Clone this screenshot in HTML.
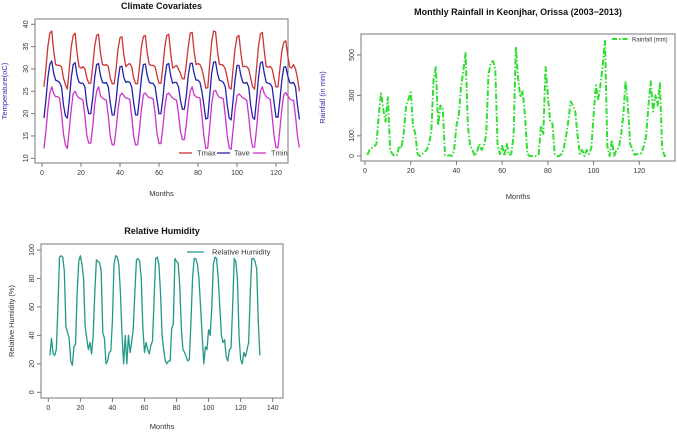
<!DOCTYPE html>
<html><head><meta charset="utf-8"><style>
body{margin:0;background:#fff;}
svg{display:block;font-family:"Liberation Sans",sans-serif;}
</style></head><body>
<svg id="c" width="677" height="432"></svg>
<script>
const months = Array.from({length:132},(_,i)=>i+1);
const tmax = [26,30,35,38,38.5,34,31,30.8,30.8,30.5,28,26.5, 25.5,30,35,37.5,38,33.5,30.5,30.2,30.5,30,28,26.8, 26.8,30.5,35,37.5,37.8,33.5,31,30.8,31,30.5,28,26.7, 26.7,30,34.5,37,37.2,33,30.5,31,31.2,30.5,28,26.7, 26.7,30.5,35,37.3,37.5,33.5,31,30.8,30.8,30.5,28.5,26.8, 26.8,30.5,35,37.5,37.8,33.5,30.2,30.5,30.8,30,29,27.8, 27.8,31,35,38,38.2,34,31,31.2,31,30,28,25.7, 25.8,31,36,38.5,38.3,34,31,31,30.8,30,28,25.8, 25.5,30,34.5,37.2,37.5,33.5,30.5,30.6,30.5,30,28,26, 25.5,30,35,37.8,38.2,34,30.5,30.4,30.6,30,28,26, 26,30,34,36,36.3,33,30.5,30.2,31,30,28,25];
const tave = [19,23,28,31,31.8,29,27.5,27.3,27,26,22,19.5, 19,23,28,31,31.4,28.5,27,26.8,26.8,26,22,20, 20,23.5,28,31,31.2,28.5,27,26.8,27,26,22.5,19.7, 19.7,23,27.5,30.5,30.6,28,27,27.2,27,26,22.5,19.7, 19.7,23.5,28,31,31.1,28.5,27,26.8,26.8,26,23,20, 20,23.5,28,31,31.2,28.5,26.8,27,27,26,23,21, 21,24,28.5,31.2,31.3,29,27.5,27.5,27,25,22,18.8, 19,24,29,31.5,31.6,29,27.5,27.3,27,26,22,19, 18.6,23,27.5,30.8,30.8,28.5,27,26.8,27,26,22,19.2, 18.7,23,28,31.3,31.6,29,27,26.8,26.7,26,22.5,19.2, 19.2,23,27.5,30.4,30.5,28.5,27,26.8,27,26,22,18.7];
const tmin = [12.2,16,21,24.5,26,24.5,23.8,23.8,23.5,20,15.5,13, 12.2,16.5,21,24.5,25,24,23.5,23.3,23,19.5,15,13.4, 13.4,17,22,25,26,24,23.5,23.2,23,19.5,15,13, 13,16.5,21,24,24.6,24,23.5,23.4,23.2,19.5,15,13, 13,16.5,21,24.3,24.6,24,23.6,23.5,23.3,20,15.5,13.3, 13.3,17,21.5,24.3,24.6,24,23.5,23.2,23,20,16,14.2, 14.2,17.5,22,25,26,24.2,23.8,23.6,23.5,19.5,15,12.2, 12.3,17,22,25,25.2,24.2,23.6,23.5,23.3,19.5,15,12.3, 12,16.5,21,24,24.4,24,23.5,23.3,23,19.5,15,12.5, 12.5,16.5,21.5,25,26,24.5,23.8,23.5,23.2,19.5,15,12.4, 12.4,16.5,21,24.3,24.7,24,23.3,23,23,19.5,15,12.4];
const rain = [5,30,40,45,60,200,310,230,170,290,30,10, 0,5,50,40,120,250,280,315,150,110,10,0, 10,20,30,60,120,380,440,150,250,240,5,0, 5,0,30,150,200,340,420,510,150,50,30,0, 20,60,30,50,100,400,460,470,430,50,10,50, 0,60,5,10,100,540,380,290,320,200,10,0, 0,0,0,10,150,110,440,300,170,160,10,0, 0,10,40,100,180,270,250,220,100,10,30,0, 30,10,40,200,350,280,350,450,570,50,0,80, 0,30,40,100,200,370,250,60,30,5,10,10, 15,50,100,250,370,220,300,250,360,40,0,0];
const rh = [26,38,27,26,30,60,95,96,95,85,46,42, 38,22,19,32,34,70,92,96,90,80,46,38, 30,35,27,40,70,93,92,91,85,42,38,20, 22,28,29,50,90,96,95,90,70,40,20,40, 20,40,28,35,45,70,93,94,92,80,45,28, 35,30,27,33,36,65,94,95,90,70,40,30, 22,20,22,22,45,48,94,92,91,75,45,30, 28,25,22,23,50,80,94,94,90,80,60,40, 20,32,30,44,40,60,90,95,94,80,60,40, 35,37,25,22,30,31,60,94,92,80,40,23, 20,28,25,30,35,70,94,94,92,87,50,26];
const rhTicks=[0,20,40,60,80,100,120,140];

const S=document.getElementById('c'),NS='http://www.w3.org/2000/svg';
function mk(t,a,p){const e=document.createElementNS(NS,t);for(const k in a)e.setAttribute(k,a[k]);(p||S).appendChild(e);return e;}
function txt(x,y,s,o){const e=mk('text',Object.assign({x:x,y:y,'font-size':7,fill:'#333','text-anchor':'middle'},o||{}));e.textContent=s;return e;}

function panel(cfg){
  const g=mk('g',{});
  
  
  const sx=v=>cfg.x0+(v-cfg.xa)/(cfg.xb-cfg.xa)*(cfg.x1-cfg.x0);
  const sy=v=>cfg.y0+(v-cfg.ya)/(cfg.yb-cfg.ya)*(cfg.y1-cfg.y0);
  const b=cfg.box;
  const r=mk('rect',{x:b[0],y:b[1],width:b[2]-b[0],height:b[3]-b[1],fill:'none',stroke:'#777','stroke-width':1},g);
  
  const t=txt((b[0]+b[2])/2,cfg.ty,cfg.title,{'font-size':9,'font-weight':'bold',fill:'#111'});
  
  g.appendChild(t);
  const xl=txt((b[0]+b[2])/2,cfg.xly,'Months',{'font-size':7.5});
  g.appendChild(xl);
  const yl=txt(0,0,cfg.ylab,{'font-size':7.5,fill:cfg.ycol,transform:`translate(${cfg.ylx},${(b[1]+b[3])/2}) rotate(-90)`});
  g.appendChild(yl);
  cfg.xt.forEach(v=>{mk('line',{x1:sx(v),x2:sx(v),y1:b[3],y2:b[3]+4,stroke:'#777'},g);
    const l=txt(sx(v),b[3]+12,v);g.appendChild(l);});
  cfg.yt.forEach(v=>{mk('line',{x1:b[0]-4,x2:b[0],y1:sy(v),y2:sy(v),stroke:'#777'},g);
    const l=txt(0,0,v,{transform:`translate(${b[0]-7},${sy(v)}) rotate(-90)`});g.appendChild(l);});
  cfg.series.forEach(s=>{
    const p=mk('polyline',{points:s.d.map((v,i)=>sx(months[i])+','+sy(v)).join(' '),fill:'none',stroke:s.c,'stroke-width':s.w||1.3,'stroke-dasharray':s.dash||'','stroke-linejoin':'round'},g);
    
  });
  cfg.legend.forEach(l=>{
    const lg=mk('g',{},g);
    mk('line',{x1:l.x1,x2:l.x2,y1:l.y,y2:l.y,stroke:l.c,'stroke-width':l.w||1.3,'stroke-dasharray':l.dash||''},lg);
    lg.appendChild(txt(l.tx,l.y+2.5,l.t,{'text-anchor':'start','font-size':l.fs||7.5}));
  });
}

panel({name:'climate-covariates-chart',box:[35,19,288,163],xa:0,xb:120,x0:42,x1:276,ya:40,yb:10,y0:24.3,y1:158.3,
  title:'Climate Covariates',ty:9,xly:196,ylab:'Temperature(oC)',ycol:'#3333aa',ylx:7,
  xt:[0,20,40,60,80,100,120],yt:[10,15,20,25,30,35,40],
  series:[{n:'tmax',d:tmax,c:'#cc3333'},{n:'tave',d:tave,c:'#2222aa'},{n:'tmin',d:tmin,c:'#cc33cc'}],
  legend:[{x1:179,x2:192,y:153,c:'#cc3333',t:'Tmax',tx:197},{x1:217,x2:230,y:153,c:'#2222aa',t:'Tave',tx:234},{x1:253,x2:266,y:153,c:'#cc33cc',t:'Tmin',tx:271}]});

panel({name:'monthly-rainfall-chart',box:[361,34,675,161],xa:0,xb:120,x0:365,x1:639.3,ya:0,yb:500,y0:156,y1:55,
  title:'Monthly Rainfall in Keonjhar, Orissa (2003\u22122013)',ty:15,xly:199,ylab:'Rainfall (in mm)',ycol:'#3333aa',ylx:325,
  xt:[0,20,40,60,80,100,120],yt:[0,100,300,500],
  series:[{n:'rainfall',d:rain,c:'#33dd33',w:2,dash:'6,2,1.5,2'}],
  legend:[{x1:612,x2:628,y:39,c:'#33dd33',w:2,dash:'5,2,1.5,2',t:'Rainfall (mm)',tx:632,fs:6}]});

panel({name:'relative-humidity-chart',box:[41,244,283,398],xa:0,xb:140,x0:48.3,x1:272.7,ya:100,yb:0,y0:250,y1:392.3,
  title:'Relative Humidity',ty:234,xly:429,ylab:'Relative Humidity (%)',ycol:'#333',ylx:14,
  xt:rhTicks,yt:[0,20,40,60,80,100],
  series:[{n:'relative-humidity',d:rh,c:'#229988'}],
  legend:[{x1:187,x2:204,y:252,c:'#229988',t:'Relative Humidity',tx:212}]});
</script>
</body></html>
